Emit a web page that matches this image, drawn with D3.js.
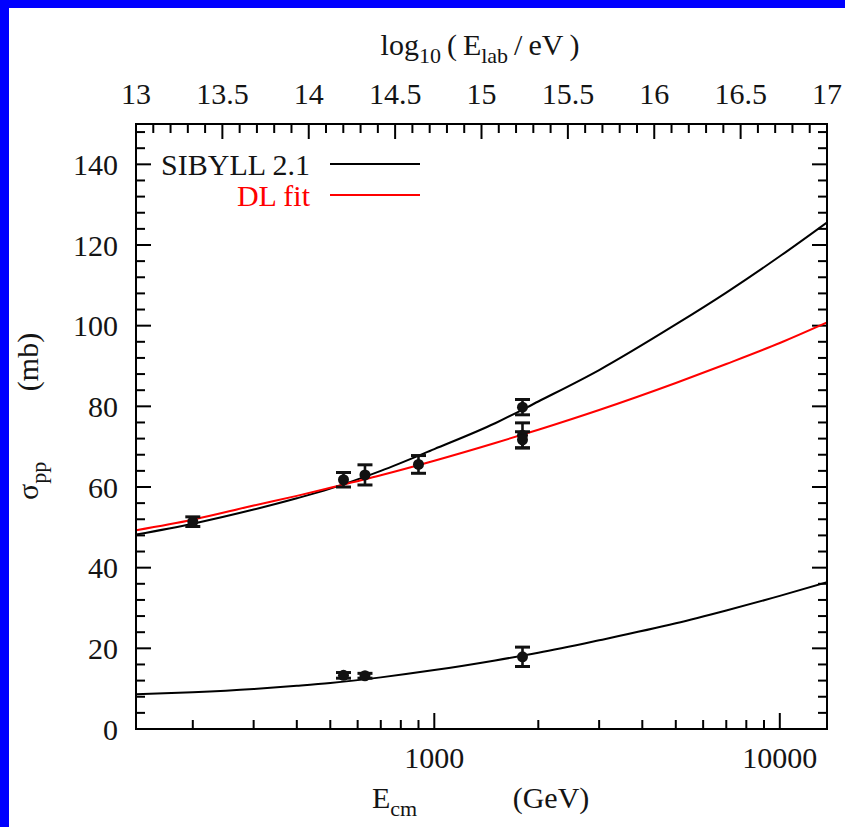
<!DOCTYPE html>
<html>
<head>
<meta charset="utf-8">
<script src="https://cdn.jsdelivr.net/npm/d3@7"></script>
<style>
  html, body { margin: 0; padding: 0; background: #fff; }
  svg { display: block; }
  text { font-family: "Liberation Serif", "Times New Roman", serif; fill: #141414; }
</style>
</head>
<body>
<div id="chart"></div>
<script>
// ---- data -------------------------------------------------------------
// secondary (top) axis: log10 of the lab-frame energy in eV
const elabRange = [13, 17];
const elabTicks = [13, 13.5, 14, 14.5, 15, 15.5, 16, 16.5, 17];
// primary (bottom) axis: centre-of-mass energy in GeV
const ecmLabels = [1000, 10000];
const sigmaTicks = [0, 20, 40, 60, 80, 100, 120, 140];
const sigmaRange = [0, 150];

// model curves, sampled at these centre-of-mass energies (GeV)
const curveEnergy = [137, 200, 300, 400, 500, 700, 1000, 1500, 2000, 3000, 5000, 7000, 10000, 13700];
const sibyllTotal = [48.2, 50.9, 54.4, 57.2, 59.6, 64.0, 69.4, 75.8, 81.2, 89.0, 100.3, 108.2, 117.2, 125.6];
const sibyllElastic = [8.6, 9.1, 9.9, 10.7, 11.4, 12.8, 14.6, 17.0, 18.9, 22.0, 26.2, 29.4, 33.0, 36.4];
const dlFit = [49.3, 51.9, 55.4, 57.8, 59.8, 62.9, 66.5, 70.9, 74.2, 79.1, 85.8, 90.5, 95.7, 100.8];

// collider measurements (mb)
const totalEnergy = [200, 546, 630, 900, 1800, 1800, 1800];
const totalValue = [51.4, 61.8, 63.0, 65.6, 79.8, 72.8, 71.7];
const totalError = [1.2, 1.8, 2.5, 2.2, 1.9, 3.1, 2.0];
const elasticEnergy = [546, 630, 1800];
const elasticValue = [13.3, 13.2, 17.9];
const elasticError = [0.7, 0.6, 2.4];

const legendNames = ["SIBYLL 2.1", "DL fit"];
const legendColors = ["#000000", "#ff0000"];

// ---- layout -----------------------------------------------------------
const W = 845, H = 827;
const plot = { left: 136, right: 827, top: 124, bottom: 729 };
const protonMass = 0.938; // GeV

// E_cm = sqrt(2 m_p E_lab), E_lab in GeV
const ecmOf = l => Math.sqrt(2 * protonMass * Math.pow(10, l - 9));

const svg = d3.select("#chart").append("svg")
  .attr("width", W).attr("height", H);

svg.append("rect").attr("width", W).attr("height", H).attr("fill", "#fff");
// blue frame along the top and left edges
svg.append("rect").attr("x", 0).attr("y", 0).attr("width", W).attr("height", 8).attr("fill", "#0000ff");
svg.append("rect").attr("x", 0).attr("y", 0).attr("width", 9).attr("height", H).attr("fill", "#0000ff");

const xTop = d3.scaleLinear().domain(elabRange).range([plot.left, plot.right]);
const x = d3.scaleLog().domain(elabRange.map(ecmOf)).range([plot.left, plot.right]);
const y = d3.scaleLinear().domain(sigmaRange).range([plot.bottom, plot.top]);

const FS = 30;
const majorLen = 15, minorLen = 9;

// ---- axes -------------------------------------------------------------
const axisG = svg.append("g").attr("stroke", "#000").attr("stroke-width", 2);

// left & right: sigma ticks every 4 mb, labelled every 20 mb
const sigmaMinor = d3.range(sigmaRange[0], sigmaRange[1] + 0.001, 4).filter(v => v % 20 !== 0);
sigmaTicks.forEach(v => {
  axisG.append("line").attr("x1", plot.left).attr("x2", plot.left + majorLen).attr("y1", y(v)).attr("y2", y(v));
  axisG.append("line").attr("x1", plot.right).attr("x2", plot.right - majorLen).attr("y1", y(v)).attr("y2", y(v));
});
sigmaMinor.forEach(v => {
  axisG.append("line").attr("x1", plot.left).attr("x2", plot.left + minorLen).attr("y1", y(v)).attr("y2", y(v));
  axisG.append("line").attr("x1", plot.right).attr("x2", plot.right - minorLen).attr("y1", y(v)).attr("y2", y(v));
});
svg.append("g").selectAll("text").data(sigmaTicks).join("text")
  .attr("x", 118).attr("y", d => y(d)).attr("dy", "0.35em")
  .attr("text-anchor", "end").attr("font-size", FS).text(d => d);

// top: log10(E_lab/eV), minor every 0.1
const elabMinor = d3.range(130, 171).map(v => v / 10).filter(v => Math.abs(v * 2 - Math.round(v * 2)) > 1e-6);
elabTicks.forEach(v => {
  axisG.append("line").attr("x1", xTop(v)).attr("x2", xTop(v)).attr("y1", plot.top).attr("y2", plot.top + majorLen);
});
elabMinor.forEach(v => {
  axisG.append("line").attr("x1", xTop(v)).attr("x2", xTop(v)).attr("y1", plot.top).attr("y2", plot.top + minorLen);
});
svg.append("g").selectAll("text").data(elabTicks).join("text")
  .attr("x", d => xTop(d)).attr("y", 104)
  .attr("text-anchor", "middle").attr("font-size", FS).text(d => d);

// bottom: E_cm log ticks
const ecmAll = x.ticks().filter(v => v >= x.domain()[0] && v <= x.domain()[1]);
ecmAll.forEach(v => {
  const major = ecmLabels.includes(v);
  axisG.append("line").attr("x1", x(v)).attr("x2", x(v))
    .attr("y1", plot.bottom).attr("y2", plot.bottom - (major ? majorLen + 1 : minorLen));
});
svg.append("g").selectAll("text").data(ecmLabels).join("text")
  .attr("x", d => x(d)).attr("y", 768)
  .attr("text-anchor", "middle").attr("font-size", FS).text(d => d);

// ---- curves -----------------------------------------------------------
svg.append("defs").append("clipPath").attr("id", "plotClip")
  .append("rect").attr("x", plot.left).attr("y", plot.top)
  .attr("width", plot.right - plot.left).attr("height", plot.bottom - plot.top);

const line = d3.line().x(d => x(d[0])).y(d => y(d[1])).curve(d3.curveMonotoneX);
const curves = svg.append("g").attr("clip-path", "url(#plotClip)").attr("fill", "none").attr("stroke-width", 2);
curves.append("path").attr("d", line(d3.zip(curveEnergy, sibyllTotal))).attr("stroke", legendColors[0]);
curves.append("path").attr("d", line(d3.zip(curveEnergy, sibyllElastic))).attr("stroke", legendColors[0]);
curves.append("path").attr("d", line(d3.zip(curveEnergy, dlFit))).attr("stroke", legendColors[1]);

// ---- measurements -----------------------------------------------------
function drawPoints(es, vs, errs) {
  const g = svg.append("g").attr("stroke", "#111").attr("stroke-width", 2.6);
  es.forEach((e, i) => {
    const cx = x(e), lo = y(vs[i] - errs[i]), hi = y(vs[i] + errs[i]);
    g.append("line").attr("x1", cx).attr("x2", cx).attr("y1", lo).attr("y2", hi);
    g.append("line").attr("x1", cx - 7.5).attr("x2", cx + 7.5).attr("y1", lo).attr("y2", lo).attr("stroke-width", 3);
    g.append("line").attr("x1", cx - 7.5).attr("x2", cx + 7.5).attr("y1", hi).attr("y2", hi).attr("stroke-width", 3);
    g.append("circle").attr("cx", cx).attr("cy", y(vs[i])).attr("r", 5.5).attr("fill", "#111").attr("stroke", "none");
  });
}
drawPoints(totalEnergy, totalValue, totalError);
drawPoints(elasticEnergy, elasticValue, elasticError);

// frame
svg.append("rect").attr("x", plot.left).attr("y", plot.top)
  .attr("width", plot.right - plot.left).attr("height", plot.bottom - plot.top)
  .attr("fill", "none").attr("stroke", "#000").attr("stroke-width", 2);

// ---- legend -----------------------------------------------------------
legendNames.forEach((name, i) => {
  const ly = 164 + i * 31;
  svg.append("text").attr("x", 310).attr("y", ly).attr("dy", "0.35em")
    .attr("text-anchor", "end").attr("font-size", FS)
    .style("fill", i === 0 ? "#141414" : legendColors[i]).text(name);
  svg.append("line").attr("x1", 330).attr("x2", 420).attr("y1", ly).attr("y2", ly)
    .attr("stroke", legendColors[i]).attr("stroke-width", 2);
});

// ---- axis titles ------------------------------------------------------
const topTitle = svg.append("text").attr("x", 480).attr("y", 55)
  .attr("text-anchor", "middle").attr("font-size", FS);
topTitle.append("tspan").text("log");
topTitle.append("tspan").attr("font-size", 22).attr("dy", 8).text("10");
topTitle.append("tspan").attr("dy", -8).text("\u2009(\u2009E");
topTitle.append("tspan").attr("font-size", 22).attr("dy", 8).text("lab");
topTitle.append("tspan").attr("dy", -8).text("\u2009/\u2009eV\u2009)");

const botTitle = svg.append("text").attr("x", 372).attr("y", 808).attr("font-size", FS);
botTitle.append("tspan").text("E");
botTitle.append("tspan").attr("font-size", 22).attr("dy", 8).text("cm");
svg.append("text").attr("x", 551).attr("y", 808).attr("text-anchor", "middle")
  .attr("font-size", FS).text("(GeV)");

const yTitle = svg.append("text").attr("transform", "translate(38,500) rotate(-90)")
  .attr("font-size", FS);
yTitle.append("tspan").text("\u03c3");
yTitle.append("tspan").attr("font-size", 22).attr("dy", 8).text("pp");
svg.append("text").attr("transform", "translate(38,362) rotate(-90)")
  .attr("text-anchor", "middle").attr("font-size", FS).text("(mb)");
</script>
</body>
</html>
